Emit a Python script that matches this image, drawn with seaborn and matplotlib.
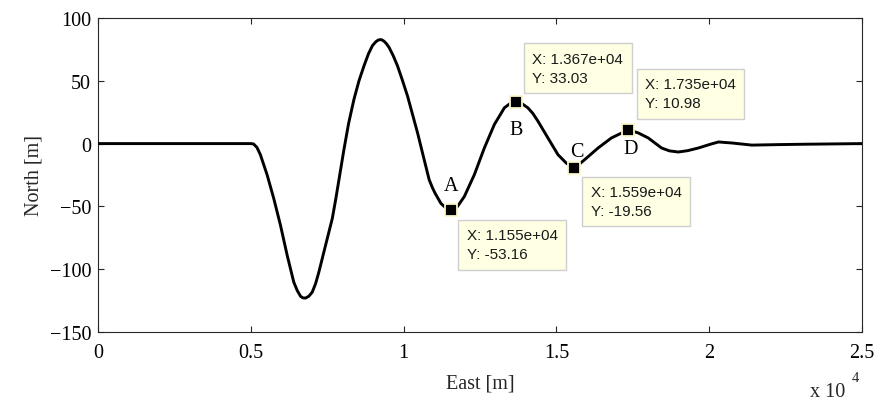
import numpy as np
import pandas as pd
import seaborn as sns
import matplotlib.pyplot as plt

# Ground track of the vehicle: east / north offsets in metres
east = [0, 5000, 5090, 5200, 5313, 5533, 5750, 5970, 6190, 6406, 6520, 6626,
        6700, 6790, 6900, 7010, 7120, 7227, 7447, 7667, 7775, 8047, 8200, 8376,
        8540, 8704, 8850, 8980, 9088, 9160, 9229, 9290, 9360, 9440, 9524, 9660,
        9800, 9960, 10128, 10457, 10650, 10837, 10950, 11030, 11221, 11400,
        11550, 11750, 11986, 12314, 12642, 12970, 13298, 13480, 13670, 13860,
        14066, 14230, 14395, 14723, 15051, 15323, 15590, 15924, 16364, 16800,
        17350, 17677, 18005, 18442, 18700, 18990, 19300, 19646, 20000, 20302,
        20739, 21395, 22271, 23145, 25000]
north = [0, 0, -0.3, -3.0, -8.8, -24.8, -43.6, -64.9, -88.9, -110.3, -117.0,
         -121.5, -122.8, -123.0, -121.5, -118.3, -111.5, -102.3, -80.9, -59.6,
         -44.9, -4.8, 16.0, 35.3, 50.0, 61.9, 71.5, 78.0, 81.0, 82.3, 82.8, 82.6,
         81.5, 79.5, 76.6, 70.0, 61.9, 50.5, 37.9, 8.5, -10.5, -28.8, -35.5,
         -39.5, -47.6, -51.6, -53.16, -50.5, -42.2, -24.8, -3.5, 15.2, 28.5,
         31.8, 33.03, 32.0, 28.5, 24.0, 17.9, 4.5, -8.8, -15.5, -19.56, -12.8,
         -3.5, 4.5, 10.98, 8.5, 4.5, -3.5, -5.8, -6.7, -5.6, -3.5, -0.8, 1.3,
         0.5, -1.2, -0.8, -0.5, 0]

# Marked points of interest
tip_names = ["A", "B", "C", "D"]
tip_east = [11550, 13670, 15590, 17350]
tip_north = [-53.16, 33.03, -19.56, 10.98]

x_ticks = [0, 5000, 10000, 15000, 20000, 25000]
x_tick_labels = ["0", "0.5", "1", "1.5", "2", "2.5"]
y_ticks = [-150, -100, -50, 0, 50, 100]

track = pd.DataFrame({"East": east, "North": north})
tips = pd.DataFrame({"East": tip_east, "North": tip_north, "name": tip_names})

sns.set_theme(style="white")
plt.rcParams["font.family"] = ["Liberation Serif", "DejaVu Serif"]
plt.rcParams["axes.edgecolor"] = "#262626"
plt.rcParams["axes.linewidth"] = 0.8

fig = plt.figure(figsize=(8.77, 4.06), dpi=100)
ax = fig.add_axes([98 / 877, 1 - 333 / 406, 764 / 877, 314 / 406])

sns.lineplot(data=track, x="East", y="North", color="black", linewidth=2.1,
             solid_joinstyle="round", solid_capstyle="round",
             ax=ax, zorder=3)
sns.scatterplot(data=tips, x="East", y="North", marker="s", s=85,
                color="black", edgecolor="#fbf6c8", linewidth=1.3,
                ax=ax, zorder=5)

ax.set_xlim(0, 25000)
ax.set_ylim(-150, 100)
ax.set_xticks(x_ticks)
ax.set_xticklabels(x_tick_labels)
ax.set_yticks(y_ticks)
ax.tick_params(direction="in", length=4.3, width=0.8, colors="#262626",
               labelcolor="black", labelsize=14.5, top=True, right=True,
               bottom=True, left=True)
ax.tick_params(axis="x", pad=8)
ax.tick_params(axis="y", pad=5)
ax.set_xlabel("East [m]", fontsize=14.5, labelpad=8)
ax.set_ylabel("North [m]", fontsize=14.5, labelpad=4)

# Letter labels next to each marked point (offsets in pixels)
letter_offsets = {"A": (0, 25), "B": (0, -27), "C": (2, 17), "D": (2, -19)}
# Data-tip box corner offsets (pixels) and whether the box sits below the point
tip_offsets = {"A": (7.3, -9.4, True), "B": (8.3, 9.0, False),
               "C": (7.7, -8.4, True), "D": (8.3, 11.0, False)}
tip_fs = 11
pad_px = 0.55 * tip_fs * 100 / 72

for name, xe, yn in zip(tip_names, tip_east, tip_north):
    dx, dy = letter_offsets[name]
    ax.annotate(name, (xe, yn), xytext=(dx, dy), textcoords="offset pixels",
                ha="center", va="center", fontsize=14.5, color="black",
                zorder=6)
    bx, by, below = tip_offsets[name]
    if below:
        xytext, va = (bx + pad_px, by - pad_px), "top"
    else:
        xytext, va = (bx + pad_px, by + pad_px), "bottom"
    ax.annotate(f"X: {xe:.3e}\nY: {yn:.4g}", (xe, yn), xytext=xytext,
                textcoords="offset pixels", ha="left", va=va,
                fontsize=tip_fs, family=["Liberation Sans", "DejaVu Sans"],
                color="#1a1a1a", linespacing=1.45, zorder=7,
                bbox=dict(boxstyle="square,pad=0.55", facecolor="#ffffe4",
                          edgecolor="#cfcfcf", linewidth=1.0))

# Axis multiplier for the east axis
fig.text(810 / 877, 1 - 397 / 406, "x 10", fontsize=14.5, ha="left",
         va="baseline")
fig.text(852 / 877, 1 - 382 / 406, "4", fontsize=10.5, ha="left",
         va="baseline")

fig.savefig("out.png", dpi=100, facecolor="white")
